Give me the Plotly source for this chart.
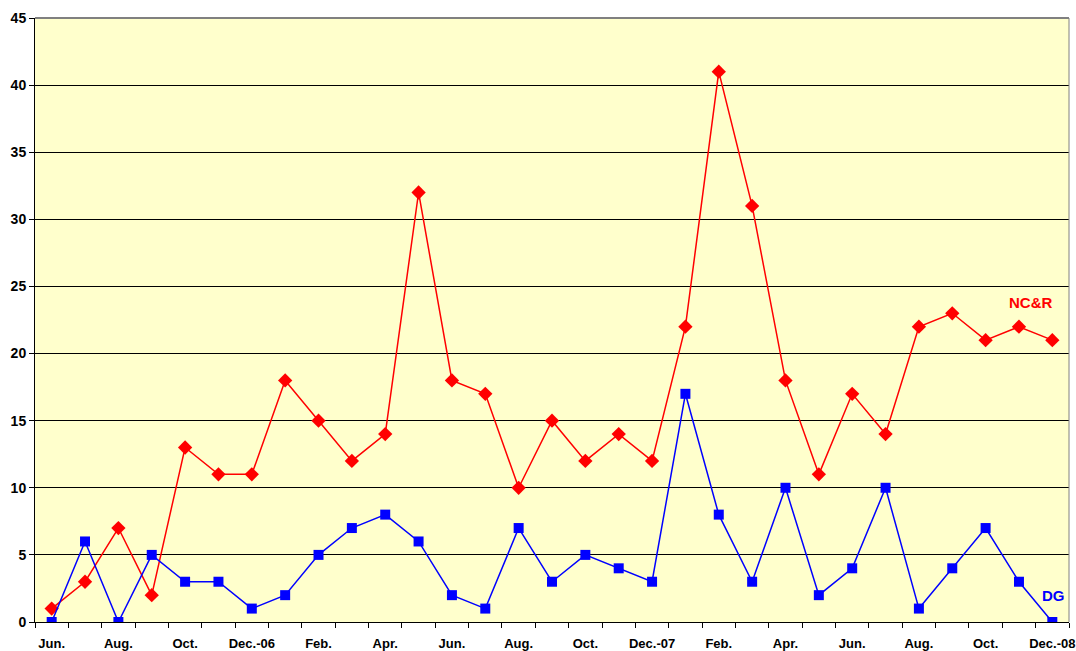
import plotly.graph_objects as go

months = ["Jun.", "Jul.", "Aug.", "Sep.", "Oct.", "Nov.", "Dec.-06",
          "Jan.", "Feb.", "Mar.", "Apr.", "May", "Jun.", "Jul.", "Aug.", "Sep.", "Oct.", "Nov.", "Dec.-07",
          "Jan.", "Feb.", "Mar.", "Apr.", "May", "Jun.", "Jul.", "Aug.", "Sep.", "Oct.", "Nov.", "Dec.-08"]
ncr = [1, 3, 7, 2, 13, 11, 11, 18, 15, 12, 14, 32, 18, 17, 10, 15, 12, 14, 12,
       22, 41, 31, 18, 11, 17, 14, 22, 23, 21, 22, 21]
dg = [0, 6, 0, 5, 3, 3, 1, 2, 5, 7, 8, 6, 2, 1, 7, 3, 5, 4, 3,
      17, 8, 3, 10, 2, 4, 10, 1, 4, 7, 3, 0]

x = list(range(len(months)))
label_idx = x[::2]
label_txt = [months[i] for i in label_idx]

fig = go.Figure()
fig.add_trace(go.Scatter(x=x, y=ncr, mode="lines+markers", name="NC&R",
                         line=dict(color="#FF0000", width=1.5),
                         marker=dict(symbol="diamond", size=11, color="#FF0000")))
fig.add_trace(go.Scatter(x=x, y=dg, mode="lines+markers", name="DG",
                         line=dict(color="#0000FF", width=1.5),
                         marker=dict(symbol="square", size=10, color="#0000FF")))

fig.add_annotation(x=29.35, y=23.8, text="<b>NC&R</b>", showarrow=False,
                   font=dict(color="#FF0000", size=15, family="Liberation Sans, Arial"))
fig.add_annotation(x=30.05, y=2.0, text="<b>DG</b>", showarrow=False,
                   font=dict(color="#0000FF", size=15, family="Liberation Sans, Arial"))

fig.update_layout(
    width=1076, height=651,
    margin=dict(l=35, r=7, t=18, b=29),
    paper_bgcolor="white", plot_bgcolor="#FFFFCC",
    showlegend=False,
    font=dict(family="Liberation Sans, Arial", size=13, color="black"),
    xaxis=dict(range=[-0.5, 30.5], tickmode="array", tickvals=label_idx,
               ticktext=["<b>%s</b>" % t for t in label_txt], automargin=False,
               tickfont=dict(size=13), ticklabeloverflow="allow", ticklabelstandoff=9,
               showgrid=False, zeroline=False, showline=True, linecolor="black", linewidth=1,
               ticks="", ticklen=0,
               minor=dict(tickmode="linear", tick0=-0.5, dtick=1, ticks="outside",
                          ticklen=5, tickcolor="black", showgrid=False)),
    yaxis=dict(range=[0, 45], tickmode="linear", tick0=0, dtick=5, automargin=False,
               tickprefix="<b>", ticksuffix="</b>", tickfont=dict(size=14),
               showgrid=True, gridcolor="black", gridwidth=1,
               zeroline=False, showline=True, linecolor="black", linewidth=1,
               ticks="outside", ticklen=5, tickcolor="black"),
)
fig.add_shape(type="line", xref="paper", yref="paper", x0=0, x1=1, y0=1, y1=1,
              line=dict(color="#808080", width=2))
fig.add_shape(type="line", xref="paper", yref="paper", x0=1, x1=1, y0=0, y1=1,
              line=dict(color="#808080", width=1))
fig.write_html("out.html", config={"displayModeBar": False},
               post_script="document.body.style.margin='0px';")
